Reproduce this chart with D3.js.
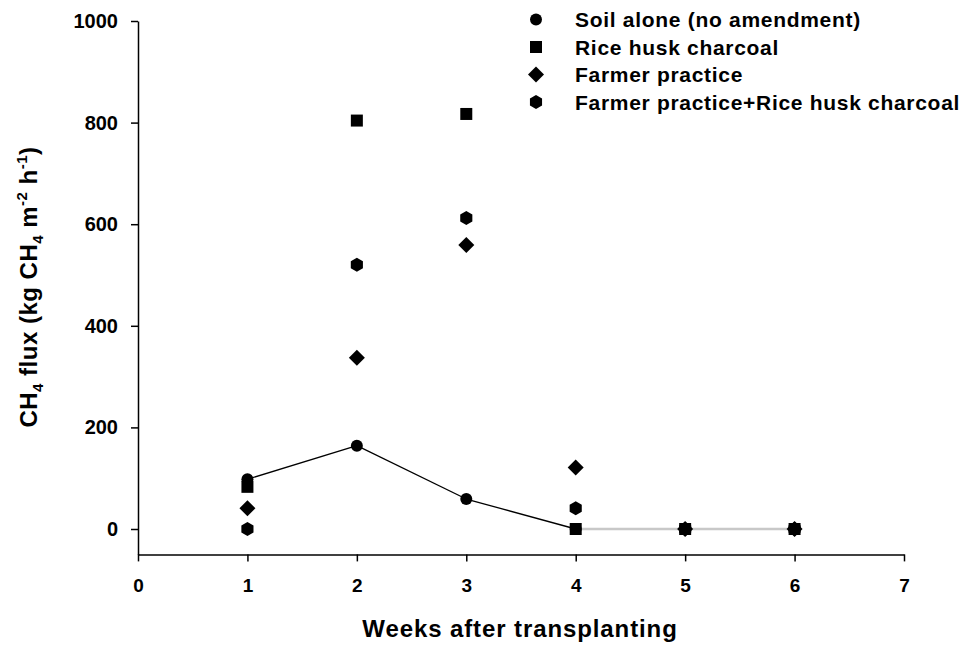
<!DOCTYPE html>
<html>
<head>
<meta charset="utf-8">
<script src="https://cdn.jsdelivr.net/npm/d3@7"></script>
<style>
  body { margin: 0; background: #fff; }
  text { font-family: "Liberation Sans", Arial, sans-serif; font-weight: bold; fill: #000; }
</style>
</head>
<body>
<div id="chart"></div>
<script>
// data
const weeks = [1, 2, 3, 4, 5, 6];
const soilAlone = [98, 164, 59, 0, 0, 0];
const riceHusk = [83, 804, 817, 0, 0, 0];
const farmerPractice = [41, 337, 559, 121, 0, 0];
const farmerRiceHusk = [0, 520, 612, 41, 0, 0];

const seriesNames = [
  "Soil alone (no amendment)",
  "Rice husk charcoal",
  "Farmer practice",
  "Farmer practice+Rice husk charcoal",
];
const seriesValues = [soilAlone, riceHusk, farmerPractice, farmerRiceHusk];

const xTicks = [0, 1, 2, 3, 4, 5, 6, 7];
const yTicks = [0, 200, 400, 600, 800, 1000];

const width = 970,
  height = 653;
const margin = { top: 21, right: 66, bottom: 99, left: 138 };

// scales
const x = d3.scaleLinear().domain([0, 7]).range([margin.left, width - margin.right]);
const y = d3.scaleLinear().domain([-50, 1000]).range([height - margin.bottom + 0.4, margin.top]);

// custom symbols
const diamond = {
  draw(ctx, size) {
    const r = Math.sqrt(size / 2);
    ctx.moveTo(0, -r);
    ctx.lineTo(r, 0);
    ctx.lineTo(0, r);
    ctx.lineTo(-r, 0);
    ctx.closePath();
  },
};
const hexagon = {
  draw(ctx, size) {
    const r = Math.sqrt(size);
    for (let i = 0; i < 6; i++) {
      const a = -Math.PI / 2 + (i * Math.PI) / 3;
      if (i === 0) ctx.moveTo(r * Math.cos(a), r * Math.sin(a));
      else ctx.lineTo(r * Math.cos(a), r * Math.sin(a));
    }
    ctx.closePath();
  },
};
const symbols = [
  d3.symbol().type(d3.symbolCircle).size(Math.PI * 36),
  d3.symbol().type(d3.symbolSquare).size(144),
  d3.symbol().type(diamond).size(128),
  d3.symbol().type(hexagon).size(49),
];

const svg = d3
  .select("#chart")
  .append("svg")
  .attr("width", width)
  .attr("height", height);

// axes
const yAxis = svg
  .append("g")
  .attr("transform", "translate(" + x(0) + ",0)")
  .call(
    d3.axisLeft(y).tickValues(yTicks).tickFormat(d3.format("d"))
      .tickSize(7).tickSizeOuter(0).tickPadding(13)
  );
yAxis.selectAll("text").style("font-size", "20px");

const xAxis = svg
  .append("g")
  .attr("transform", "translate(0," + y(-50) + ")")
  .call(
    d3.axisBottom(x).tickValues(xTicks).tickFormat(d3.format("d"))
      .tickSize(7).tickSizeOuter(0).tickPadding(17)
  );
xAxis.selectAll("text").style("font-size", "19px");

svg.selectAll(".domain, .tick line").attr("stroke", "#000").attr("stroke-width", 1.5);

// soil alone joined by a line, flat part shows as a faint line
const soilPts = weeks.map((w, i) => [x(w), y(soilAlone[i])]);
svg
  .append("g")
  .selectAll("line")
  .data(d3.pairs(soilPts))
  .enter()
  .append("line")
  .attr("x1", (d) => d[0][0])
  .attr("y1", (d) => d[0][1])
  .attr("x2", (d) => d[1][0])
  .attr("y2", (d) => d[1][1])
  .attr("stroke", (d) => (d[0][1] === d[1][1] ? "#c8c8c8" : "#000"))
  .attr("stroke-width", (d) => (d[0][1] === d[1][1] ? 2.5 : 1.3));

// markers
seriesValues.forEach(function (vals, s) {
  svg
    .append("g")
    .selectAll("path")
    .data(weeks.map((w, i) => ({ w: w, v: vals[i] })))
    .enter()
    .append("path")
    .attr("d", symbols[s])
    .attr("fill", "#000")
    .attr("transform", (d) => "translate(" + x(d.w) + "," + y(d.v) + ")");
});

// legend
const legend = svg
  .append("g")
  .selectAll("g")
  .data(seriesNames)
  .enter()
  .append("g")
  .attr("transform", (d, i) => "translate(536," + (19.5 + i * 27.5) + ")");
legend.append("path").attr("d", (d, i) => symbols[i]()).attr("fill", "#000");
legend
  .append("text")
  .attr("x", 39)
  .attr("y", 7.5)
  .style("font-size", "21px")
  .style("letter-spacing", "0.7px")
  .text((d) => d);

// axis titles
svg
  .append("text")
  .attr("x", (x(0) + x(7)) / 2 - 1)
  .attr("y", 637)
  .attr("text-anchor", "middle")
  .style("font-size", "24px")
  .style("letter-spacing", "0.9px")
  .text("Weeks after transplanting");

const yTitle = svg
  .append("text")
  .attr("transform", "translate(37,287) rotate(-90)")
  .attr("text-anchor", "middle")
  .style("font-size", "24px")
  .style("letter-spacing", "0.5px");
yTitle.append("tspan").text("CH");
yTitle.append("tspan").attr("dy", 6).style("font-size", "15px").text("4");
yTitle.append("tspan").attr("dy", -6).text(" flux (kg CH");
yTitle.append("tspan").attr("dy", 6).style("font-size", "15px").text("4");
yTitle.append("tspan").attr("dy", -6).text(" m");
yTitle.append("tspan").attr("dy", -10).style("font-size", "15px").text("-2");
yTitle.append("tspan").attr("dy", 10).text(" h");
yTitle.append("tspan").attr("dy", -10).style("font-size", "15px").text("-1");
yTitle.append("tspan").attr("dy", 10).text(")");
</script>
</body>
</html>
